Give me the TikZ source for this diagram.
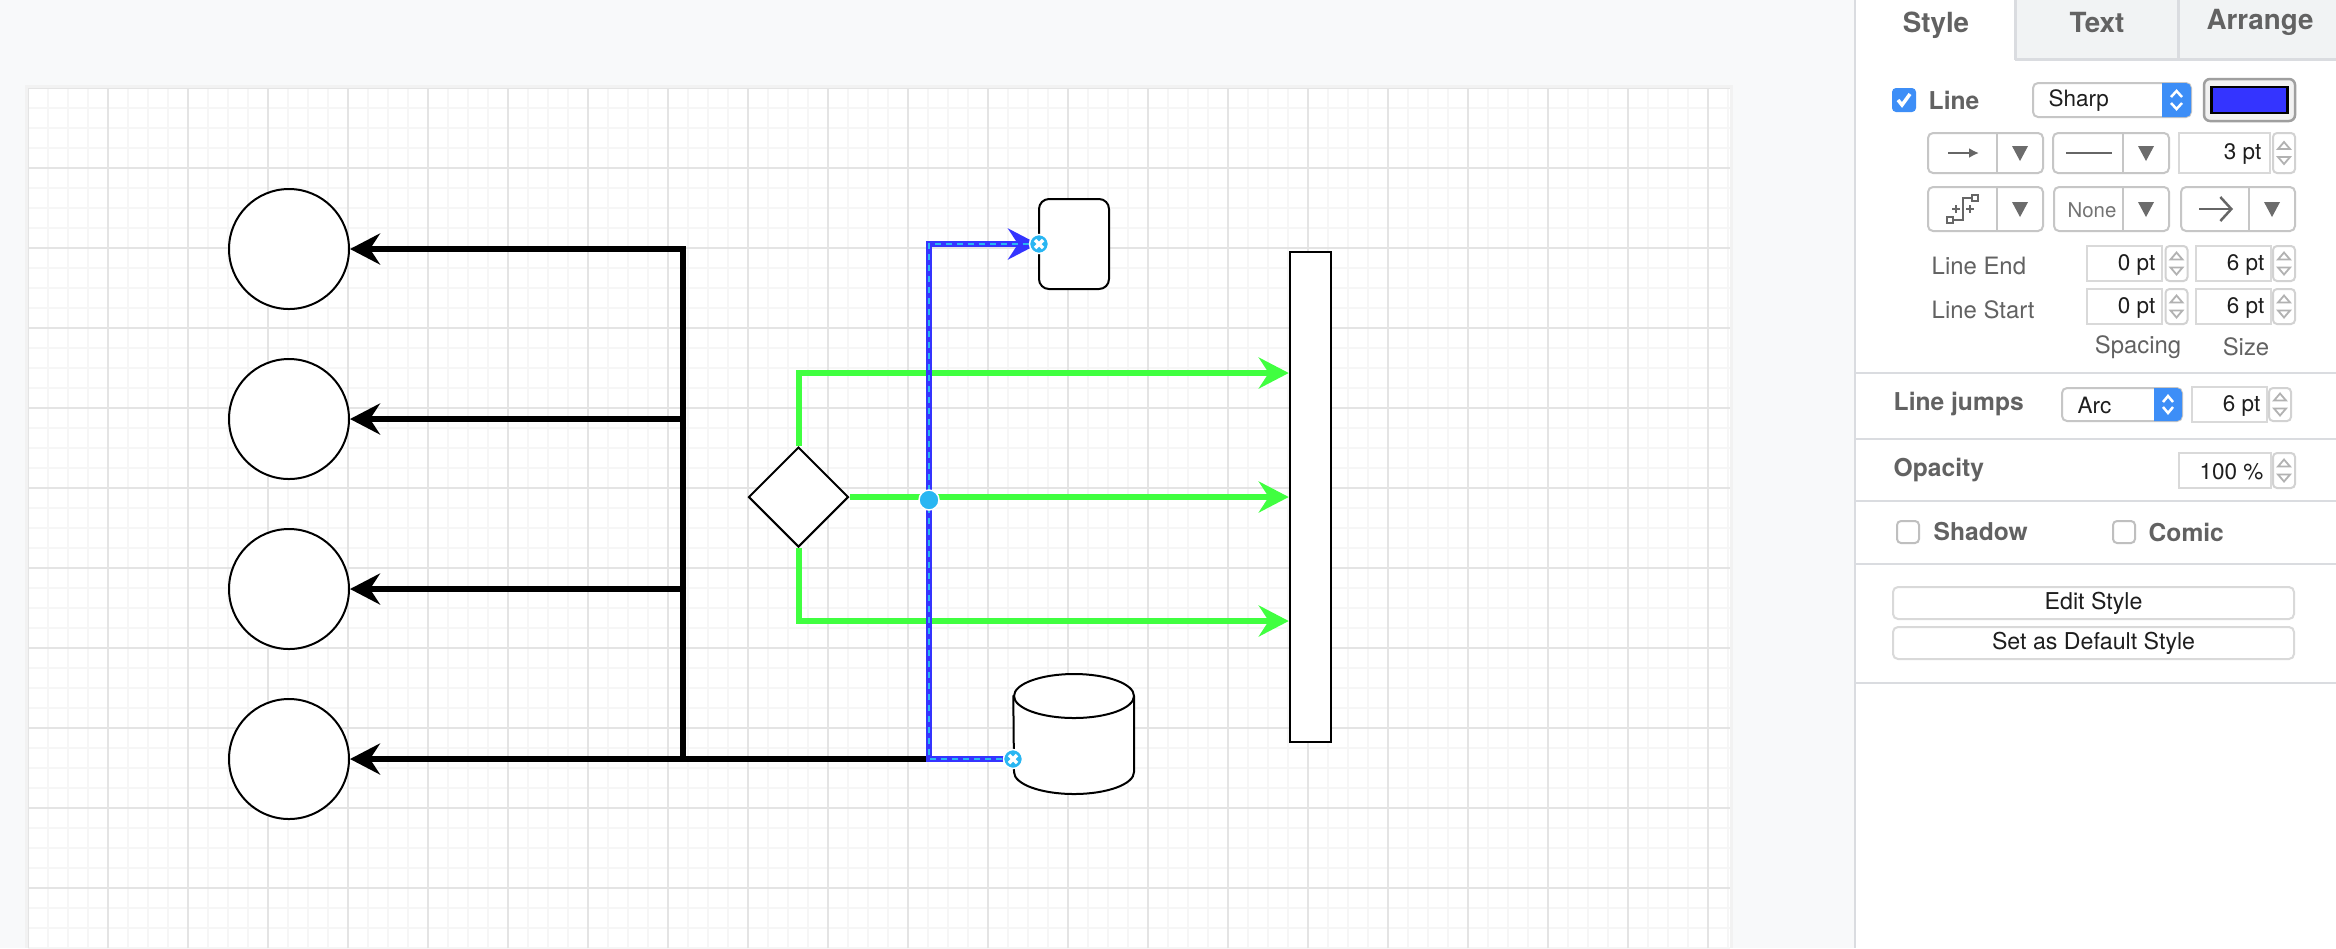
\documentclass[tikz,border=0pt]{standalone}
\usepackage{fontspec}
\setmainfont{TeX Gyre Heros}
\usepackage{tikz}
\usetikzlibrary{shapes,arrows.meta,positioning,calc}
\definecolor{canvasgray}{HTML}{F8F9FA}
\definecolor{gridminor}{HTML}{F6F6F6}
\definecolor{gridmajor}{HTML}{E4E4E4}
\definecolor{edgegreen}{RGB}{64,255,64}
\definecolor{edgeblue}{RGB}{52,52,255}
\definecolor{handleblue}{HTML}{29B6F2}
\definecolor{tabgray}{HTML}{F1F3F4}
\definecolor{panelline}{HTML}{DADCE0}
\definecolor{labelgray}{HTML}{626262}
\definecolor{valuetext}{HTML}{1E1E1E}
\definecolor{selblue}{HTML}{3D8EF7}

\begin{document}
\begin{tikzpicture}[
    x=0.1mm, y=-0.1mm,
    cell/.style={draw, line width=0.2mm, fill=white, inner sep=0pt},
    target/.style={cell, circle, minimum size=12mm},
    headarrow/.style={-{Stealth[length=3mm, width=3.1mm, inset=1mm]}},
    blackedge/.style={headarrow, line width=0.6mm, black},
    greenedge/.style={headarrow, line width=0.6mm, edgegreen},
    blueedge/.style={headarrow, line width=0.6mm, edgeblue},
    selline/.style={line width=0.18mm, handleblue, dash pattern=on 0.6mm off 0.5mm},
    handle/.style={circle, fill=handleblue, draw=white, line width=0.15mm, minimum size=1.9mm, inner sep=0pt},
    tabcell/.style={rectangle, minimum height=5.9mm, inner sep=0pt},
    tablabel/.style={inner sep=0pt, font=\fontsize{7.9}{9}\selectfont\bfseries, text=labelgray},
    boldlabel/.style={inner sep=0pt, anchor=west, font=\fontsize{7}{8}\selectfont\bfseries, text=labelgray},
    plainlabel/.style={inner sep=0pt, font=\fontsize{6.8}{8}\selectfont, text=labelgray},
    value/.style={inner sep=0pt, font=\fontsize{6.4}{8}\selectfont, text=valuetext},
    uibox/.style={draw=gray!45, line width=0.2mm, fill=white, rounded corners=0.5mm, inner sep=0pt},
    field/.style={draw=gray!30, line width=0.2mm, fill=white, inner sep=0pt, minimum height=3.5mm},
    button/.style={uibox, draw=gray!30, minimum width=40.1mm, minimum height=3.2mm, font=\fontsize{6.6}{8}\selectfont, text=valuetext},
    icon/.style={line width=0.2mm, gray!80!black},
    drop/.style={fill=gray!85!black},
    sep/.style={panelline, line width=0.25mm}
]
    \useasboundingbox (0,0) rectangle (2336,948);
    \fill[canvasgray] (0,0) rectangle (2336,948);

    % page and grid
    \fill[gray!10] (25,85) rectangle (1733,948);
    \fill[white] (28,88) rectangle (1730,948);
    \begin{scope}[shift={(28,88)}]
        \clip (0,0) rectangle (1702,860);
        \draw[gridminor, line width=0.2mm] (0,0) grid[step=2mm] (1702,860);
        \draw[gridmajor, line width=0.2mm] (0,0) grid[step=8mm] (1702,860);
    \end{scope}

    % shapes
    \node[target] (target1) at (289,249) {};
    \node[target] (target2) at (289,419) {};
    \node[target] (target3) at (289,589) {};
    \node[target] (target4) at (289,759) {};
    \node[cell, diamond, minimum width=10mm, minimum height=10mm] (decide) at (798.5,497) {};
    \node[cell, rectangle, line width=0.25mm, minimum width=4.1mm, minimum height=49mm] (bar) at (1310.5,497) {};
    \node[cell, rectangle, rounded corners=1mm, minimum width=7mm, minimum height=9mm] (box) at (1074,244) {};
    \node[rectangle, inner sep=0pt, minimum width=12mm, minimum height=12mm] (store) at (1074,734) {};
    \draw[line width=0.2mm, fill=white] (store.north west) ++(0,22) -- (1014,772)
        arc[start angle=180, end angle=360, x radius=6mm, y radius=2.2mm] -- (1134,696)
        arc[start angle=0, end angle=180, x radius=6mm, y radius=2.2mm];
    \draw[line width=0.2mm] (1014,696) arc[start angle=180, end angle=360, x radius=6mm, y radius=2.2mm];

    % connectors
    \coordinate (trunk) at (683,759);
    \coordinate (fork) at (929,759);
    \draw[blackedge] (fork) -- (target4);
    \draw[blackedge] (trunk) |- (target1);
    \draw[blackedge] (trunk) |- (target2);
    \draw[blackedge] (trunk) |- (target3);

    \draw[greenedge] (decide.north) |- ([yshift=12.4mm]bar.west);
    \draw[greenedge] (decide.east) -- (bar.west);
    \draw[greenedge] (decide.south) |- ([yshift=-12.4mm]bar.west);

    \coordinate (storeIn) at ([yshift=-2.5mm]store.west);
    \coordinate (blueTop) at (929,244);
    \draw[blueedge] (storeIn) -| (blueTop) -- (box.west);
    \draw[selline] (storeIn) -| (blueTop) -- (1030,244);

    % handles
    \node[handle] (hEnd) at (1039,244) {};
    \node[handle] (hStart) at (1013,759) {};
    \node[handle, minimum size=2mm] (hMid) at (929,500) {};
    \foreach \h in {hEnd,hStart} {
        \draw[white, line width=0.35mm] ([shift={(-4,-4)}]\h.center) -- ([shift={(4,4)}]\h.center);
        \draw[white, line width=0.35mm] ([shift={(-4,4)}]\h.center) -- ([shift={(4,-4)}]\h.center);
    }

    % format panel
    \fill[white] (1855,0) rectangle (2336,948);
    \draw[sep] (1855,0) -- (1855,948);
    \node[tabcell, minimum width=16.1mm] (tabStyle) at (1935.5,29.5) {};
    \node[tabcell, fill=tabgray, minimum width=16.3mm] (tabText) at (2097.5,29.5) {};
    \node[tabcell, fill=tabgray, minimum width=15.7mm] (tabArrange) at (2257.5,29.5) {};
    \node[tablabel] at (1936,25) {Style};
    \node[tablabel] at (2097,22) {Text};
    \node[tablabel] at (2260,22) {Arrange};
    \draw[sep] (tabText.south west) -- (tabArrange.south east);
    \draw[sep] (tabText.north west) -- (tabText.south west);
    \draw[sep] (tabArrange.north west) -- (tabArrange.south west);
    \foreach \yy in {373,439,501,564,683} \draw[sep] (1855,\yy) -- (2336,\yy);

    % line row
    \node[rectangle, fill=selblue, rounded corners=0.4mm, minimum size=2.4mm, inner sep=0pt] (chkLine) at (1904,100) {};
    \draw[white, line width=0.35mm] (1898,100) -- (1902,105) -- (1910,94);
    \node[boldlabel] (lblLine) at (1928,100) {Line};
    \node[uibox, minimum width=15.8mm, minimum height=3.4mm] (selSharp) at (2112,100) {};
    \fill[selblue] (2162,83) -- (2162,117) [rounded corners=0.5mm] -- (2191,117) -- (2191,83) [sharp corners] -- cycle;
    \draw[white, line width=0.25mm] (2171,97) -- (2176.5,91) -- (2182,97) (2171,103) -- (2176.5,109) -- (2182,103);
    \node[value, anchor=west] at (2048,101) {Sharp};
    \node[uibox, draw=gray!75, fill=gray!10, line width=0.25mm, rounded corners=0.6mm, minimum width=9.1mm, minimum height=4.2mm] (colPick) at (2249.5,100) {};
    \node[draw=black, line width=0.25mm, fill=edgeblue, minimum width=7.6mm, minimum height=2.6mm, inner sep=0pt] (colSwatch) at (colPick) {};

    % arrow, pattern, width
    \node[uibox, minimum width=11.5mm, minimum height=4mm] (arrBox) at (1985.5,153) {};
    \node[uibox, minimum width=11.6mm, minimum height=4mm] (patBox) at (2111,153) {};
    \node[field, minimum width=9.1mm, minimum height=4mm] (widthField) at (2224.5,153) {};
    \node[value, anchor=east] at (2262,154) {3 pt};
    \draw[icon, -{Latex[length=1mm, width=1mm]}] (1948,153) -- (1979,153);
    \draw[icon] (2066,153) -- (2112,153);

    % waypoints, start, end
    \node[uibox, minimum width=11.5mm, minimum height=4.4mm] (wpBox) at (1985.5,209) {};
    \node[uibox, minimum width=11.5mm, minimum height=4.4mm] (startBox) at (2111.5,209) {};
    \node[uibox, minimum width=11.4mm, minimum height=4.4mm] (endBox) at (2238,209) {};
    \draw[icon] (1952,220) -- (1963,220) -- (1963,198) -- (1973,198);
    \draw[icon] (1947,217) rectangle (1953,223) (1972,195) rectangle (1978,201);
    \draw[icon] (1952,209) -- (1960,209) (1956,205) -- (1956,213) (1966,209) -- (1974,209) (1970,205) -- (1970,213);
    \node[value, font=\fontsize{5.8}{7}\selectfont, text=gray!90!black] at (2092,210) {None};
    \draw[icon, line width=0.25mm, -{Straight Barb[length=1.1mm, width=2.4mm]}] (2199,209) -- (2233,209);
    \foreach \dx in {1997,2123} {
        \draw[gray!45, line width=0.2mm] (\dx,133) -- (\dx,173);
        \draw[gray!45, line width=0.2mm] (\dx,187) -- (\dx,231);
    }
    \draw[gray!45, line width=0.2mm] (2249,187) -- (2249,231);
    \foreach \tx/\ty in {2020/153, 2146/153, 2020/209, 2146/209, 2272/209}
        \fill[drop] (\tx-8,\ty-7) -- (\tx+8,\ty-7) -- (\tx,\ty+8) -- cycle;

    % line end / start
    \node[plainlabel, anchor=west] at (1931,266) {Line End};
    \node[plainlabel, anchor=west] at (1931,310) {Line Start};
    \node[field, minimum width=7.5mm] (endSpacing) at (2124.5,263.5) {};
    \node[field, minimum width=7.5mm] (endSize) at (2233.5,263.5) {};
    \node[field, minimum width=7.5mm] (startSpacing) at (2124.5,306.5) {};
    \node[field, minimum width=7.5mm] (startSize) at (2233.5,306.5) {};
    \node[value, anchor=east] at (2156,264.5) {0 pt};
    \node[value, anchor=east] at (2265,264.5) {6 pt};
    \node[value, anchor=east] at (2156,307.5) {0 pt};
    \node[value, anchor=east] at (2265,307.5) {6 pt};
    \node[plainlabel] at (2138,347) {Spacing};
    \node[plainlabel] at (2246,347) {Size};

    % line jumps, opacity
    \node[boldlabel] (lblJumps) at (1893,404) {Line jumps};
    \node[uibox, minimum width=12mm, minimum height=3.3mm] (selArc) at (2122,404.5) {};
    \fill[selblue] (2154,388) -- (2154,421) [rounded corners=0.5mm] -- (2182,421) -- (2182,388) [sharp corners] -- cycle;
    \draw[white, line width=0.25mm] (2163,402) -- (2168,396) -- (2173,402) (2163,407) -- (2168,413) -- (2173,407);
    \node[value, anchor=west] at (2077,405) {Arc};
    \node[field, minimum width=7.5mm] (jumpField) at (2229.5,404.5) {};
    \node[value, anchor=east] at (2261,405.5) {6 pt};
    \node[boldlabel] (lblOpacity) at (1893,470) {Opacity};
    \node[field, minimum width=9.2mm] (opField) at (2225,470.5) {};
    \node[value, anchor=east] at (2264,471.5) {100 \%};

    % spinners
    \foreach \sx/\sy/\sh in {2284/153/40, 2176.5/263.5/35, 2284/263.5/35, 2176.5/306.5/35, 2284/306.5/35, 2280/404.5/33, 2284/470.5/35} {
        \draw[gray!35, line width=0.2mm, fill=white, rounded corners=0.4mm] (\sx-11,\sy-\sh/2) rectangle (\sx+11,\sy+\sh/2);
        \draw[gray!60, line width=0.18mm] (\sx-6,\sy-4) -- (\sx+6,\sy-4) -- (\sx,\sy-11) -- cycle;
        \draw[gray!60, line width=0.18mm] (\sx-6,\sy+4) -- (\sx+6,\sy+4) -- (\sx,\sy+11) -- cycle;
    }

    % shadow, comic
    \node[rectangle, draw=gray!50, line width=0.2mm, fill=white, rounded corners=0.4mm, minimum size=2.2mm, inner sep=0pt] (chkShadow) at (1908,532) {};
    \node[boldlabel] (lblShadow) at (1933,532) {Shadow};
    \node[rectangle, draw=gray!50, line width=0.2mm, fill=white, rounded corners=0.4mm, minimum size=2.2mm, inner sep=0pt] (chkComic) at (2124,532) {};
    \node[boldlabel] (lblComic) at (2148,532) {Comic};

    % buttons
    \node[button] (btnEdit) at (2093.5,603) {Edit Style};
    \node[button] (btnDefault) at (2093.5,643) {Set as Default Style};
\end{tikzpicture}
\end{document}
